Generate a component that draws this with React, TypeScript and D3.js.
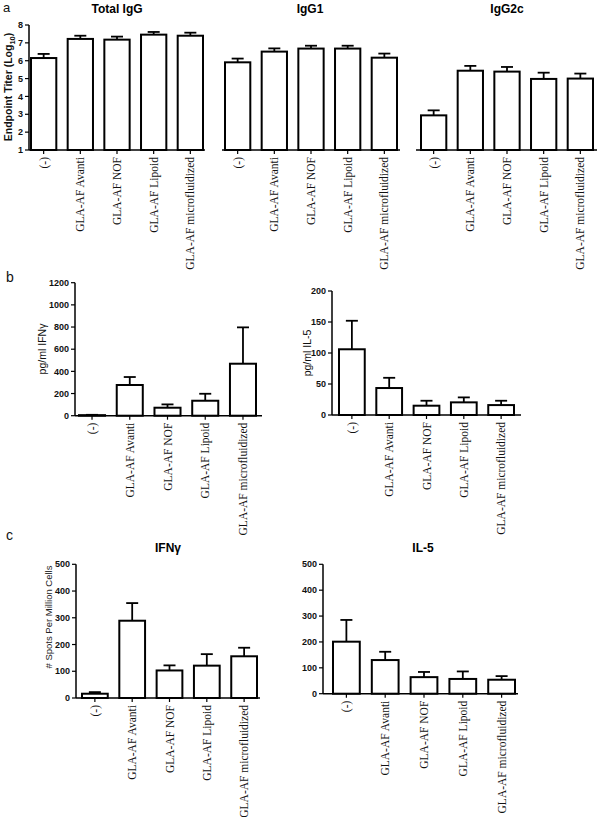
import React from "react";
import * as d3 from "d3";

const categories = ["(-)", "GLA-AF Avanti", "GLA-AF NOF", "GLA-AF Lipoid", "GLA-AF microfluidized"];

const totalIgG = [6.15, 7.22, 7.18, 7.46, 7.40];
const totalIgGErr = [0.23, 0.18, 0.17, 0.15, 0.17];
const igg1 = [5.91, 6.51, 6.68, 6.68, 6.17];
const igg1Err = [0.21, 0.18, 0.16, 0.16, 0.23];
const igg2c = [2.94, 5.44, 5.39, 4.98, 5.0];
const igg2cErr = [0.28, 0.27, 0.26, 0.35, 0.28];

const ifngPg = [5, 277, 72, 135, 469];
const ifngPgErr = [3, 72, 30, 63, 328];
const il5Pg = [106, 43.5, 15, 20.4, 16];
const il5PgErr = [46, 16.5, 8, 8, 7];

const ifngSpots = [16, 289, 103, 121, 156];
const ifngSpotsErr = [6, 66, 19, 43, 32];
const il5Spots = [201, 130, 64, 57, 54];
const il5SpotsErr = [84, 32, 20, 29, 14];

const titerTicks = [1, 2, 3, 4, 5, 6, 7, 8];
const ifngPgTicks = [0, 200, 400, 600, 800, 1000, 1200];
const il5PgTicks = [0, 50, 100, 150, 200];
const spotsTicks = [0, 100, 200, 300, 400, 500];

const SANS = "Liberation Sans, Arial, sans-serif";
const SERIF = "Liberation Serif, Times New Roman, serif";

type ChartProps = {
  values: number[];
  errs: number[];
  domain: [number, number];
  yRange: [number, number];
  ticks?: number[];
  axisX?: number;
  xRange: [number, number];
  axisStart: number;
  axisEnd: number;
};

function Chart({ values, errs, domain, yRange, ticks, axisX, xRange, axisStart, axisEnd }: ChartProps) {
  const y = d3.scaleLinear().domain(domain).range(yRange);
  const x = d3.scaleBand<string>().domain(categories).range(xRange).paddingInner(0.31).paddingOuter(0);
  const base = y(domain[0]);
  const bw = x.bandwidth();
  return (
    <g>
      {ticks && axisX !== undefined && (
        <g>
          <line x1={axisX} x2={axisX} y1={y(domain[1])} y2={base} stroke="#000" strokeWidth={1.5} />
          {ticks.map((t) => (
            <g key={t}>
              <line x1={axisX - 4} x2={axisX} y1={y(t)} y2={y(t)} stroke="#000" strokeWidth={1.2} />
              <text x={axisX - 6} y={y(t)} dy="0.35em" textAnchor="end" fontFamily={SANS} fontWeight="bold" fontSize={9} fill="#111">
                {t}
              </text>
            </g>
          ))}
        </g>
      )}
      <line x1={axisStart} x2={axisEnd} y1={base} y2={base} stroke="#000" strokeWidth={1.5} />
      {categories.map((c, i) => {
        const bx = x(c) as number;
        const cx = bx + bw / 2;
        const top = y(values[i]);
        const capY = y(values[i] + errs[i]);
        return (
          <g key={c}>
            <line x1={cx} x2={cx} y1={top} y2={capY} stroke="#000" strokeWidth={1.8} />
            <line x1={cx - 6} x2={cx + 6} y1={capY} y2={capY} stroke="#000" strokeWidth={1.8} />
            <rect x={bx} y={top} width={bw} height={base - top} fill="#fff" stroke="#000" strokeWidth={2} />
            <line x1={cx} x2={cx} y1={base} y2={base + 4} stroke="#000" strokeWidth={1.2} />
            <text
              transform={`translate(${cx + 4},${base + 7}) rotate(-90)`}
              textAnchor="end"
              fontFamily={SERIF}
              fontSize={11.5}
              fill="#111"
            >
              {c}
            </text>
          </g>
        );
      })}
    </g>
  );
}

export default function App() {
  return (
    <svg width={600} height={817} style={{ position: "absolute", left: 0, top: 0, background: "#fff" }}>
      <rect width={600} height={817} fill="#fff" />
      {/* Panel a */}
      <text x={3} y={12} fontFamily={SANS} fontSize={13} fill="#111">a</text>
      <text x={117} y={13} textAnchor="middle" fontFamily={SANS} fontWeight="bold" fontSize={12}>Total IgG</text>
      <text x={310} y={13} textAnchor="middle" fontFamily={SANS} fontWeight="bold" fontSize={12}>IgG1</text>
      <text x={507} y={13} textAnchor="middle" fontFamily={SANS} fontWeight="bold" fontSize={12}>IgG2c</text>
      <text transform="translate(12,87) rotate(-90)" textAnchor="middle" fontFamily={SANS} fontWeight="bold" fontSize={10.5} fill="#111">
        Endpoint  Titer (Log<tspan fontSize={7.5} dy={3}>10</tspan><tspan dy={-3}>)</tspan>
      </text>
      <Chart values={totalIgG} errs={totalIgGErr} domain={[1, 8]} yRange={[150, 25]} ticks={titerTicks} axisX={29} xRange={[31, 203]} axisStart={29} axisEnd={205} />
      <Chart values={igg1} errs={igg1Err} domain={[1, 8]} yRange={[150, 25]} xRange={[225, 397]} axisStart={222} axisEnd={400} />
      <Chart values={igg2c} errs={igg2cErr} domain={[1, 8]} yRange={[150, 25]} xRange={[421, 593]} axisStart={416} axisEnd={597} />

      {/* Panel b */}
      <text x={6} y={282} fontFamily={SANS} fontSize={14} fill="#111">b</text>
      <text transform="translate(46,349) rotate(-90)" textAnchor="middle" fontFamily={SANS} fontSize={10.5} fill="#111">pg/ml IFNγ</text>
      <Chart values={ifngPg} errs={ifngPgErr} domain={[0, 1200]} yRange={[415.7, 282.7]} ticks={ifngPgTicks} axisX={75} xRange={[79, 256]} axisStart={75} axisEnd={262} />
      <text transform="translate(311,353) rotate(-90)" textAnchor="middle" fontFamily={SANS} fontSize={10.5} fill="#111">pg/ml IL-5</text>
      <Chart values={il5Pg} errs={il5PgErr} domain={[0, 200]} yRange={[415, 291]} ticks={il5PgTicks} axisX={332} xRange={[339, 514]} axisStart={332} axisEnd={521} />

      {/* Panel c */}
      <text x={6} y={540} fontFamily={SANS} fontSize={14} fill="#111">c</text>
      <text x={168} y={552} textAnchor="middle" fontFamily={SANS} fontWeight="bold" fontSize={12}>IFNγ</text>
      <text x={423} y={552} textAnchor="middle" fontFamily={SANS} fontWeight="bold" fontSize={12}>IL-5</text>
      <text transform="translate(52,617) rotate(-90)" textAnchor="middle" fontFamily={SANS} fontSize={9.5} fill="#222">
        # Spots Per Million Cells
      </text>
      <Chart values={ifngSpots} errs={ifngSpotsErr} domain={[0, 500]} yRange={[698, 564.3]} ticks={spotsTicks} axisX={76} xRange={[82, 257]} axisStart={76} axisEnd={260} />
      <Chart values={il5Spots} errs={il5SpotsErr} domain={[0, 500]} yRange={[693.7, 564.3]} ticks={spotsTicks} axisX={323} xRange={[333, 515]} axisStart={323} axisEnd={518} />
    </svg>
  );
}
